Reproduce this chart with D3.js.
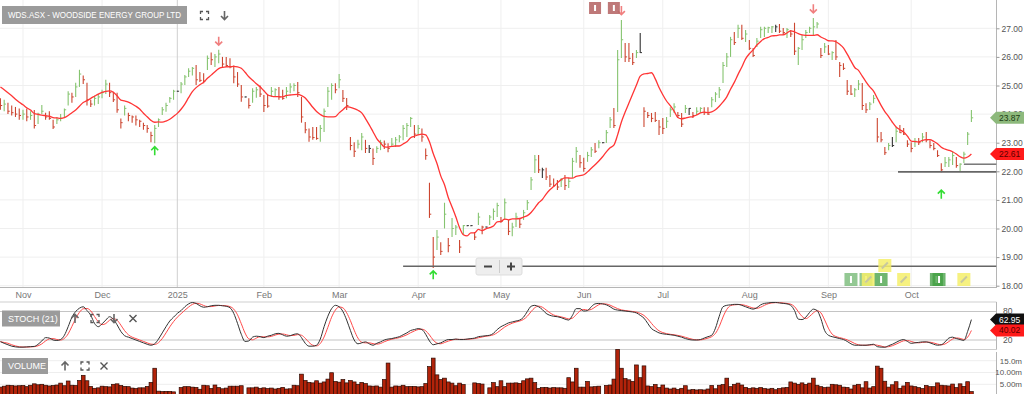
<!DOCTYPE html>
<html>
<head>
<meta charset="utf-8">
<script src="https://cdnjs.cloudflare.com/ajax/libs/d3/7.8.5/d3.min.js"></script>
<style>
  body { margin: 0; background: #fff; }
  svg { display: block; font-family: "Liberation Sans", Arial, sans-serif; }
</style>
</head>
<body>
<svg id="chart" width="1024" height="394"></svg>
<script>
const title = 'WDS.ASX - WOODSIDE ENERGY GROUP LTD';
const firstDay = '2024-10-24';
const lastDay = '2025-10-23';
const droppedDays = ['2024-12-25', '2024-12-26'];   // not on the axis at all

// closes before the visible window, only used to start the 10 day average
const priorCloses = [25.30, 25.20, 25.10, 25.20, 25.00, 24.90, 24.90, 24.80, 24.80];

// one value per weekday slot, holidays are flat bars
const highs = [
  24.55, 24.50, 24.40, 24.30, 24.25, 24.20,
  24.15, 24.20, 24.10, 24.14, 24.05, 24.32, 24.05, 24.10, 23.80, 23.90, 24.00, 24.20, 24.80, 24.75, 25.10, 25.55, 25.35, 25.10, 24.50, 24.65, 24.70,
  24.85, 25.20, 25.10, 24.78, 24.75, 23.85, 24.30, 24.05, 23.95, 23.95, 23.80, 23.70, 23.62, 23.38, 23.62, 23.85, 24.25, 24.40, 24.60, 24.85,
  24.80, 25.12, 25.37, 25.60, 25.65, 25.72, 25.47, 25.43, 26.05, 26.15, 26.10, 26.25, 26.00, 26.00, 25.95, 25.70, 25.47, 25.02, 24.60, 24.55, 24.90, 24.95, 25.00,
  24.67, 24.67, 24.95, 24.90, 24.95, 24.85, 24.95, 25.08, 25.08, 25.12, 24.60, 23.72, 23.50, 23.55, 23.55, 23.62, 24.20, 24.95, 25.08, 25.08,
  25.40, 24.84, 24.56, 23.20, 23.02, 23.10, 23.34, 23.10, 22.92, 22.80, 22.88, 23.10, 23.08, 22.98, 23.16, 23.20, 23.27, 23.62, 23.69, 23.90, 23.62,
  23.62, 23.50, 22.80, 21.60, 19.70, 19.95, 19.52, 20.90, 19.67, 20.37, 20.12, 19.60, 20.12, 20.10, 20.10, 19.88, 20.55, 20.10, 20.05, 20.47, 20.70, 20.90,
  20.40, 21.05, 20.30, 20.20, 20.55, 20.37, 20.65, 21.00, 21.80, 22.57, 22.57, 22.12, 22.12, 21.87, 21.75, 21.70, 21.77, 21.87, 21.77, 22.47, 22.85, 22.57,
  22.47, 22.68, 22.85, 22.99, 23.09, 23.00, 23.44, 23.90, 24.21, 26.24, 27.29, 26.49, 26.49, 26.14, 26.24, 26.84, 24.24, 24.07, 24.04, 24.07, 23.79,
  23.86, 23.90, 24.24, 24.38, 24.07, 24.04, 24.32, 24.21, 24.07, 24.24, 24.24, 24.24, 24.24, 24.60, 24.77, 24.95, 25.82, 26.14, 26.70, 26.87, 27.12, 27.12, 26.94,
  26.59, 26.31, 26.66, 27.05, 27.05, 27.05, 27.08, 27.12, 27.15, 27.01, 27.01, 26.94, 27.19, 26.35, 26.77, 26.94, 27.05, 27.36, 27.22, 26.31, 26.49,
  26.42, 26.20, 26.59, 25.82, 25.78, 25.19, 25.02, 24.91, 25.19, 25.09, 24.38, 24.42, 24.67, 23.86, 23.37, 22.85, 22.99, 23.20, 23.55, 23.62, 23.51, 23.09,
  23.02, 23.16, 23.16, 23.34, 23.37, 23.09, 22.99, 22.74, 22.28, 22.50, 22.50, 22.68, 22.50, 22.28, 22.68, 23.37, 24.14
];
const lows = [
  24.15, 24.10, 24.00, 23.95, 23.90, 23.80,
  23.80, 23.75, 23.80, 23.50, 23.65, 24.00, 23.80, 23.80, 23.48, 23.65, 23.75, 23.90, 24.30, 24.40, 24.60, 24.95, 25.05, 24.30, 24.25, 24.30, 24.35,
  24.55, 24.70, 24.60, 24.42, 24.05, 23.50, 23.95, 23.75, 23.70, 23.60, 23.55, 23.45, 23.35, 23.02, 22.98, 23.55, 23.97, 24.08, 24.40, 24.50,
  24.80, 24.73, 25.02, 25.30, 25.35, 25.02, 25.12, 25.08, 25.54, 25.72, 25.65, 25.78, 25.65, 25.65, 25.60, 25.08, 24.95, 24.43, 24.60, 24.20, 24.40, 24.57, 24.60,
  24.07, 24.22, 24.60, 24.60, 24.50, 24.50, 24.55, 24.73, 24.80, 24.60, 23.70, 23.33, 23.03, 23.10, 23.10, 23.03, 23.37, 24.25, 24.50, 24.73,
  24.90, 24.42, 24.14, 22.74, 22.50, 22.80, 22.74, 22.64, 22.64, 22.22, 22.64, 22.74, 22.78, 22.67, 22.85, 22.85, 23.02, 23.09, 23.20, 23.55, 23.16,
  23.27, 23.03, 22.40, 20.37, 18.62, 19.25, 19.07, 20.00, 19.17, 19.70, 19.77, 19.14, 19.77, 20.10, 20.10, 19.60, 20.12, 19.80, 20.05, 20.12, 20.30, 20.40,
  20.20, 20.30, 19.77, 19.73, 20.05, 20.02, 20.30, 20.65, 21.35, 21.94, 21.94, 21.77, 21.70, 21.45, 21.45, 21.35, 21.45, 21.35, 21.42, 21.77, 22.30, 22.12,
  21.98, 22.33, 22.50, 22.64, 22.81, 23.00, 22.99, 23.51, 23.51, 24.07, 25.96, 25.82, 25.82, 25.72, 25.96, 26.14, 23.55, 23.86, 23.72, 23.72, 23.27,
  23.30, 23.51, 23.90, 24.04, 23.86, 23.55, 24.04, 23.97, 23.86, 23.97, 24.04, 23.97, 23.97, 24.24, 24.42, 24.56, 25.09, 25.65, 26.00, 26.42, 26.66, 26.59, 26.52,
  26.24, 26.00, 26.35, 26.66, 26.70, 26.84, 26.84, 26.87, 26.84, 26.77, 26.66, 26.70, 26.07, 25.72, 26.24, 26.66, 26.84, 26.77, 27.00, 25.96, 26.14,
  26.07, 25.89, 25.89, 25.30, 25.54, 24.67, 24.67, 24.60, 24.84, 24.14, 24.04, 24.14, 24.38, 23.02, 23.02, 22.57, 22.74, 22.85, 23.02, 23.34, 23.27, 22.85,
  22.67, 22.85, 22.92, 23.02, 23.02, 22.81, 22.74, 22.50, 21.97, 22.15, 22.15, 22.22, 22.12, 22.00, 22.29, 22.92, 23.72
];
const closes = [
  24.30, 24.35, 24.10, 24.05, 24.00, 23.95,
  24.00, 23.90, 23.95, 23.60, 24.00, 24.10, 23.90, 23.85, 23.55, 23.80, 23.85, 24.15, 24.70, 24.60, 24.95, 25.40, 25.20, 24.50, 24.35, 24.55, 24.60,
  24.75, 25.05, 24.75, 24.50, 24.15, 23.70, 24.20, 23.95, 23.90, 23.80, 23.75, 23.60, 23.50, 23.25, 23.50, 23.80, 24.15, 24.30, 24.55, 24.80,
  24.80, 25.05, 25.30, 25.50, 25.60, 25.20, 25.18, 25.15, 25.95, 25.90, 26.00, 26.10, 25.75, 25.70, 25.65, 25.30, 25.05, 24.60, 24.60, 24.30, 24.80, 24.85, 24.70,
  24.30, 24.28, 24.80, 24.85, 24.60, 24.55, 24.80, 24.95, 25.00, 24.75, 23.90, 23.45, 23.20, 23.18, 23.15, 23.50, 24.10, 24.80, 25.00, 24.85,
  25.20, 24.55, 24.30, 22.90, 22.70, 22.95, 23.20, 22.80, 22.80, 22.45, 22.80, 23.00, 22.95, 22.80, 22.95, 23.10, 23.20, 23.50, 23.60, 23.85, 23.30,
  23.50, 23.20, 22.55, 20.50, 19.00, 19.70, 19.20, 20.50, 19.40, 20.00, 20.05, 19.35, 20.10, 20.10, 20.10, 19.70, 20.40, 20.05, 20.05, 20.40, 20.60, 20.80,
  20.25, 20.90, 19.90, 20.05, 20.40, 20.15, 20.55, 20.90, 21.70, 22.40, 22.05, 22.05, 21.80, 21.55, 21.50, 21.45, 21.70, 21.50, 21.65, 22.35, 22.70, 22.30,
  22.10, 22.55, 22.75, 22.70, 23.00, 23.00, 23.35, 23.80, 23.60, 25.90, 26.60, 26.00, 25.95, 25.80, 26.15, 26.15, 24.10, 23.95, 23.85, 23.78, 23.55,
  23.50, 23.75, 24.15, 24.25, 23.95, 23.65, 24.20, 24.20, 23.95, 24.10, 24.20, 24.05, 24.00, 24.50, 24.70, 24.85, 25.70, 26.00, 26.60, 26.50, 27.00, 26.65, 26.80,
  26.30, 26.05, 26.55, 26.95, 27.00, 27.02, 27.05, 27.05, 26.90, 26.85, 26.95, 26.80, 26.20, 26.30, 26.60, 26.85, 27.00, 27.05, 27.15, 26.05, 26.35,
  26.10, 26.15, 26.00, 25.70, 25.60, 24.80, 24.70, 24.85, 25.05, 24.30, 24.15, 24.35, 24.55, 23.20, 23.10, 22.65, 22.90, 22.90, 23.40, 23.35, 23.30, 22.95,
  22.80, 23.05, 23.00, 23.20, 23.10, 22.90, 22.80, 22.55, 22.05, 22.30, 22.40, 22.55, 22.20, 22.25, 22.60, 23.30, 23.87
];
// millions of shares
const volumes = [
  3.8, 4.2, 4.6, 4.5, 4.3, 4.4,
  4.5, 4.0, 4.6, 5.2, 4.8, 5.0, 4.6, 4.3, 4.5, 4.7, 5.5, 4.4, 6.4, 4.6, 4.5, 6.6, 8.8, 6.5, 4.1, 3.3, 3.5,
  4.2, 4.0, 3.9, 5.0, 5.2, 4.5, 4.1, 4.0, 3.4, 3.2, 3.5, 3.5, 4.1, 5.8, 11.8, 2.1, 1.9, 2.0, 2.0, 1.8,
  0, 3.6, 4.0, 4.0, 3.8, 3.7, 2.9, 4.6, 4.4, 3.2, 4.7, 3.6, 3.1, 3.4, 4.2, 4.2, 4.2, 4.4, 0, 3.5, 3.5, 3.8, 3.3,
  3.5, 3.2, 3.4, 3.0, 3.3, 3.7, 3.0, 3.1, 4.6, 4.4, 9.3, 6.6, 5.8, 5.6, 6.5, 5.5, 6.0, 7.2, 9.9, 6.2,
  5.9, 7.0, 5.6, 6.6, 6.0, 5.0, 5.8, 5.3, 4.3, 4.2, 4.3, 3.8, 7.0, 14.0, 3.8, 4.3, 4.2, 4.6, 4.0, 4.1, 4.1,
  3.9, 4.0, 5.3, 12.5, 16.1, 9.0, 7.0, 7.6, 6.0, 5.5, 4.4, 5.5, 4.9, 0, 0, 5.6, 5.3, 5.1, 0, 3.5, 5.7, 4.0,
  6.5, 4.0, 5.5, 5.5, 5.6, 5.4, 6.5, 7.3, 7.6, 5.7, 3.3, 3.6, 3.7, 3.4, 3.6, 3.5, 3.5, 3.3, 7.8, 6.0, 11.8, 3.8,
  3.8, 6.2, 3.9, 4.0, 4.2, 0, 4.5, 4.7, 7.2, 19.8, 11.8, 7.4, 6.9, 6.2, 13.2, 7.8, 12.8, 4.3, 4.0, 4.9, 3.6,
  4.7, 3.4, 3.0, 3.4, 2.8, 3.3, 4.4, 2.6, 2.8, 2.6, 2.7, 2.6, 3.0, 4.5, 3.1, 4.6, 4.9, 7.6, 4.0, 5.0, 5.5, 4.7, 3.7,
  3.2, 3.5, 3.3, 3.6, 3.2, 3.0, 3.3, 2.7, 3.2, 3.5, 3.7, 6.0, 5.5, 5.0, 5.6, 4.9, 5.5, 7.6, 4.6, 4.0, 3.6,
  3.8, 5.0, 4.8, 4.6, 3.8, 3.7, 3.0, 4.6, 5.0, 3.5, 6.1, 3.4, 4.0, 12.7, 11.8, 6.3, 3.8, 4.8, 6.1, 3.3, 4.3, 5.8,
  4.3, 4.0, 3.6, 3.2, 4.5, 4.0, 4.0, 5.6, 4.6, 4.4, 4.3, 5.1, 3.6, 5.2, 4.1, 6.1, 1.9
];
// stochastic %K (21)
const stochK = [
  16.5, 13, 10, 7, 5.5, 4.8,
  5, 5.5, 6, 6.5, 11, 18, 25, 24, 20, 19, 21, 30, 48, 68, 80, 87, 90, 82, 72, 55, 48,
  54, 62, 69, 64, 52, 38, 29, 26, 23, 20, 17, 14, 11, 9, 12, 22, 35, 48, 60, 68,
  76, 82, 90, 96, 99, 97, 92, 89, 90, 92, 93, 93, 92, 91, 88, 76, 55, 32, 17, 18, 26, 28, 27,
  25, 28, 30, 33, 34, 31, 28, 29, 32, 33, 25, 13, 7, 7, 9, 22, 48, 70, 86, 93,
  90, 80, 62, 40, 20, 12, 14, 16, 12, 9, 13, 16, 20, 22, 23, 25, 27, 31, 35, 40, 42,
  44, 42, 32, 18, 10, 12, 14, 18, 21, 21, 22, 21, 21, 22, 23, 24, 27, 28, 29, 30, 34, 42,
  48, 52, 56, 58, 60, 62, 68, 80, 91, 93, 90, 84, 76, 72, 70, 69, 67, 64, 62, 72, 86, 86,
  81, 82, 90, 96, 97, 96, 94, 90, 85, 83, 82, 81, 80, 79, 77, 72, 66, 55, 44, 39, 35,
  33, 32, 31, 30, 28, 26, 23, 21, 20, 20, 21, 24, 27, 30, 45, 70, 90, 93, 94, 95, 95, 93, 90,
  87, 85, 88, 94, 97, 98, 99, 99, 98, 97, 96, 93, 82, 64, 63, 68, 78, 85, 82, 65, 40,
  30, 27, 25, 23, 21, 17, 12, 9, 9, 9, 9, 10, 11, 6, 5, 4.8, 8, 11, 15, 19, 21, 17,
  13, 14, 15, 16, 16, 14, 11, 9, 10, 16, 24, 26, 23, 21, 19.1, 38, 62.95
];

// [slot, price] of the signal arrows
const sellSignals = [[58, 26.55], [165, 27.62], [216, 27.68]];
const buySignals = [[41, 22.72], [115, 18.38], [250, 21.2]];
// [from slot, price]
const supportLines = [[107, 18.68], [238.5, 21.98], [256, 22.25]];
const newsFlags = [158, 163];
// [slot, kind, row]
const noteFlags = [[226, 'g', 0], [230, 'g', 0], [230.6, 'y', 0], [234, 'G', 0], [235, 'y', 1], [240, 'y', 0], [248.7, 'G', 0], [249.4, 'G', 0], [256, 'y', 0]];

const priceTicks = [18, 19, 20, 21, 22, 23, 24, 25, 26, 27];
const stochTicks = [80, 20];
const volTicks = [15, 10, 5];
const volTickText = ['15.0m', '10.00m', '5.00m'];

const parse = d3.timeParse('%Y-%m-%d');
const fmt = d3.timeFormat('%Y-%m-%d');
const dates = d3.timeDay.range(parse(firstDay), d3.timeDay.offset(parse(lastDay), 1))
  .filter(d => d.getDay() % 6 !== 0 && !droppedDays.includes(fmt(d)));

const svg = d3.select('#chart');
const right = 996.5;
const x = d3.scaleLinear().domain([0, dates.length - 1]).range([0.42, 971.4]);
const y = d3.scaleLinear().domain([18, 27]).range([285.7, 28.3]);
const yS = d3.scaleLinear().domain([0, 100]).range([349.5, 302]);
const yV = d3.scaleLinear().domain([0, 15]).range([396.1, 360.7]);

const monthIdx = d3.range(1, dates.length).filter(i => dates[i].getMonth() !== dates[i - 1].getMonth());
const monthLabel = i => dates[i].getMonth() === 0 ? d3.timeFormat('%Y')(dates[i]) : d3.timeFormat('%b')(dates[i]);

const allCloses = priorCloses.concat(closes);
const ma = closes.map((c, i) => d3.mean(allCloses.slice(i, i + 10)));
const stochD = stochK.map((k, i) => d3.mean(stochK.slice(Math.max(0, i - 2), i + 1)));

svg.append('defs').append('clipPath').attr('id', 'main')
  .append('rect').attr('x', 0).attr('y', 0).attr('width', right).attr('height', 288);

// ---- main panel grid
const grid = svg.append('g');
grid.selectAll('.hg').data(priceTicks).join('line')
  .attr('x1', 0).attr('x2', right).attr('y1', d => y(d)).attr('y2', d => y(d))
  .attr('stroke', '#efefef');
grid.selectAll('.vg').data(monthIdx).join('line')
  .attr('x1', d => x(d)).attr('x2', d => x(d)).attr('y1', 0).attr('y2', 288)
  .attr('stroke', d => dates[d].getMonth() === 0 ? '#cfcfcf' : '#efefef');

svg.append('line').attr('x1', 0).attr('x2', right).attr('y1', 287.5).attr('y2', 287.5)
  .attr('stroke', '#b5b5b5').attr('stroke-width', 1.2);
svg.append('line').attr('x1', right).attr('x2', right).attr('y1', 0).attr('y2', 288)
  .attr('stroke', '#b5b5b5');

const xAxis = svg.append('g').attr('transform', 'translate(0,288)')
  .call(d3.axisBottom(x).tickValues(monthIdx).tickFormat(monthLabel).tickSize(0).tickPadding(4));
xAxis.select('.domain').remove();
xAxis.selectAll('text').attr('fill', '#777').attr('font-size', 9);

const yAxis = svg.append('g').attr('transform', `translate(${right},0)`)
  .call(d3.axisRight(y).tickValues(priceTicks).tickFormat(d3.format('.2f')).tickSize(3).tickPadding(2));
yAxis.select('.domain').remove();
yAxis.selectAll('line').attr('stroke', '#999');
yAxis.selectAll('text').attr('fill', '#555').attr('font-size', 8.5);

// ---- price bars
const plot = svg.append('g').attr('clip-path', 'url(#main)');
const prevClose = i => i === 0 ? priorCloses[priorCloses.length - 1] : closes[i - 1];
const barColor = i => closes[i] > prevClose(i) ? '#86c470' : closes[i] < prevClose(i) ? '#cc4630' : '#333';
const idx = d3.range(dates.length);

plot.selectAll('.bar').data(idx).join('line')
  .attr('x1', i => x(i)).attr('x2', i => x(i))
  .attr('y1', i => y(highs[i]) - (highs[i] === lows[i] ? 0.5 : 0))
  .attr('y2', i => y(lows[i]) + (highs[i] === lows[i] ? 0.5 : 0))
  .attr('stroke', barColor).attr('stroke-width', 1.1);
plot.selectAll('.tick-c').data(idx).join('line')
  .attr('x1', i => x(i)).attr('x2', i => x(i) + 1.8)
  .attr('y1', i => y(closes[i])).attr('y2', i => y(closes[i]))
  .attr('stroke', barColor).attr('stroke-width', 1);

plot.append('path').datum(idx)
  .attr('fill', 'none').attr('stroke', '#ff3535').attr('stroke-width', 1.3)
  .attr('d', d3.line().x(i => x(i)).y(i => y(ma[i])).curve(d3.curveMonotoneX));

// support lines
plot.selectAll('.sup').data(supportLines).join('line')
  .attr('x1', d => x(d[0])).attr('x2', right).attr('y1', d => y(d[1])).attr('y2', d => y(d[1]))
  .attr('stroke', (d, k) => k === 2 ? '#333' : '#666').attr('stroke-width', (d, k) => k === 2 ? 1 : 1.6);

// signal arrows
function arrow(g, cx, cy, up, color) {
  const s = up ? -1 : 1;
  g.append('path')
    .attr('d', `M${cx},${cy - 4.5 * s} V${cy + 4 * s} M${cx - 3.5},${cy + 0.5 * s} L${cx},${cy + 4 * s} L${cx + 3.5},${cy + 0.5 * s}`)
    .attr('fill', 'none').attr('stroke', color).attr('stroke-width', 1.6);
}
sellSignals.forEach(d => arrow(svg, x(d[0]), y(d[1]), false, '#f07f7f'));
buySignals.forEach(d => arrow(svg, x(d[0]), y(d[1]), true, '#33dd33'));

// news flags at the top
newsFlags.forEach(i => {
  const cx = x(i);
  svg.append('rect').attr('x', cx - 6).attr('y', 2).attr('width', 12).attr('height', 12)
    .attr('fill', '#b86a6a').attr('opacity', 0.9);
  svg.append('rect').attr('x', cx - 1).attr('y', 5).attr('width', 2).attr('height', 6).attr('fill', '#fff');
});

// note flags near the bottom
noteFlags.forEach(([i, kind, row]) => {
  const cx = x(i), top = row ? 259 : 273;
  const fill = kind === 'y' ? '#f4ee6a' : kind === 'G' ? '#3f9e3f' : '#6fb56f';
  svg.append('rect').attr('x', cx - 6.5).attr('y', top).attr('width', 13).attr('height', 13)
    .attr('fill', fill).attr('opacity', kind === 'y' ? 0.85 : 0.75);
  if (kind === 'y') {
    svg.append('line').attr('x1', cx - 3).attr('y1', top + 9.5).attr('x2', cx + 3).attr('y2', top + 3.5)
      .attr('stroke', '#c8c8a0').attr('stroke-width', 2);
  } else {
    svg.append('rect').attr('x', cx - 1).attr('y', top + 3).attr('width', 2).attr('height', 7).attr('fill', '#fff');
  }
});

// zoom control
const zc = svg.append('g');
zc.append('rect').attr('x', 476).attr('y', 258).attr('width', 46).attr('height', 17).attr('rx', 2)
  .attr('fill', '#eeeeee').attr('stroke', '#dddddd');
zc.append('line').attr('x1', 499.5).attr('x2', 499.5).attr('y1', 260).attr('y2', 273).attr('stroke', '#ccc');
zc.append('path').attr('d', 'M484,266.5 H492 M507,266.5 H515 M511,262.5 V270.5')
  .attr('stroke', '#444').attr('stroke-width', 2);

// price tags on the axis
function tag(cy, text, fill, color) {
  svg.append('path').attr('d', `M990,${cy} L996,${cy - 6} L1024,${cy - 6} L1024,${cy + 6} L996,${cy + 6} Z`)
    .attr('fill', fill);
  svg.append('text').attr('x', 999).attr('y', cy).attr('dy', '0.35em')
    .attr('font-size', 8.5).attr('fill', color).text(text);
}
tag(y(closes[closes.length - 1]), d3.format('.2f')(closes[closes.length - 1]), '#8db97c', '#1d3d14');
tag(y(ma[ma.length - 1]), d3.format('.2f')(ma[ma.length - 1]), '#ff1a1a', '#5a0000');

// icons
function corners(cx, cy) {
  svg.append('path')
    .attr('d', `M${cx - 4},${cy - 1.5} V${cy - 4} H${cx - 1.5} M${cx + 1.5},${cy - 4} H${cx + 4} V${cy - 1.5} M${cx + 4},${cy + 1.5} V${cy + 4} H${cx + 1.5} M${cx - 1.5},${cy + 4} H${cx - 4} V${cy + 1.5}`)
    .attr('fill', 'none').attr('stroke', '#555').attr('stroke-width', 1.3);
}
function vArrow(cx, cy, up) { arrow(svg, cx, cy, up, '#666'); }
function cross(cx, cy) {
  svg.append('path').attr('d', `M${cx - 3.5},${cy - 3.5} L${cx + 3.5},${cy + 3.5} M${cx + 3.5},${cy - 3.5} L${cx - 3.5},${cy + 3.5}`)
    .attr('stroke', '#555').attr('stroke-width', 1.4);
}
function labelBox(x0, y0, w, h, text, fit) {
  svg.append('rect').attr('x', x0).attr('y', y0).attr('width', w).attr('height', h).attr('fill', '#9b9b9b');
  const t = svg.append('text').attr('x', x0 + 6).attr('y', y0 + h / 2).attr('dy', '0.35em')
    .attr('fill', '#fff').attr('font-size', 9).text(text);
  if (fit) t.attr('textLength', w - 12).attr('lengthAdjust', 'spacingAndGlyphs');
}
labelBox(2, 6, 185, 18, title, true);
corners(204.5, 15.5);
vArrow(224.5, 15.5, false);

// ---- stochastic panel
const st = svg.append('g');
[302, 349.5].forEach(v => st.append('line').attr('x1', 0).attr('x2', right).attr('y1', v).attr('y2', v).attr('stroke', '#cfcfcf'));
st.selectAll('.sg').data(stochTicks).join('line')
  .attr('x1', 0).attr('x2', right).attr('y1', d => yS(d)).attr('y2', d => yS(d)).attr('stroke', '#c4c4c4');
st.append('line').attr('x1', right).attr('x2', right).attr('y1', 302).attr('y2', 349.5).attr('stroke', '#b5b5b5');
st.selectAll('.st').data(stochTicks).join('text')
  .attr('x', 1003).attr('y', d => yS(d)).attr('dy', '0.35em')
  .attr('font-size', 8.5).attr('fill', '#555').text(d => d);
st.append('path').datum(idx).attr('fill', 'none').attr('stroke', '#ff4a4a').attr('stroke-width', 1)
  .attr('d', d3.line().x(i => x(i)).y(i => yS(stochD[i])).curve(d3.curveMonotoneX));
st.append('path').datum(idx).attr('fill', 'none').attr('stroke', '#333').attr('stroke-width', 1)
  .attr('d', d3.line().x(i => x(i)).y(i => yS(stochK[i])).curve(d3.curveMonotoneX));
labelBox(2, 310.5, 58, 16, 'STOCH (21)');
vArrow(75, 318.5, true);
corners(95, 318.5);
vArrow(114, 318.5, false);
cross(133, 318.5);
tag(yS(stochK[stochK.length - 1]), d3.format('.2f')(stochK[stochK.length - 1]), '#111', '#fff');
tag(yS(stochD[stochD.length - 1]), d3.format('.2f')(stochD[stochD.length - 1]), '#ff1a1a', '#5a0000');

// ---- volume panel
const vo = svg.append('g');
vo.selectAll('.vgl').data(volTicks).join('line')
  .attr('x1', 0).attr('x2', right).attr('y1', d => yV(d)).attr('y2', d => yV(d)).attr('stroke', '#eeeeee');
vo.append('line').attr('x1', right).attr('x2', right).attr('y1', 352).attr('y2', 394).attr('stroke', '#b5b5b5');
vo.selectAll('.vb').data(idx.filter(i => volumes[i] > 0)).join('rect')
  .attr('x', i => x(i) - 1.88).attr('width', 3.76)
  .attr('y', i => yV(volumes[i])).attr('height', i => yV(0) - yV(volumes[i]))
  .attr('fill', '#b2230a').attr('stroke', '#2b0900').attr('stroke-width', 0.7);
vo.selectAll('.vt').data(volTicks).join('text')
  .attr('x', 1022).attr('y', d => yV(d)).attr('dy', '0.35em').attr('text-anchor', 'end')
  .attr('font-size', 8).attr('fill', '#555').text((d, k) => volTickText[k]);
labelBox(2, 358, 46, 16, 'VOLUME');
vArrow(65, 366, true);
corners(85, 366);
cross(104, 366);
</script>
</body>
</html>
